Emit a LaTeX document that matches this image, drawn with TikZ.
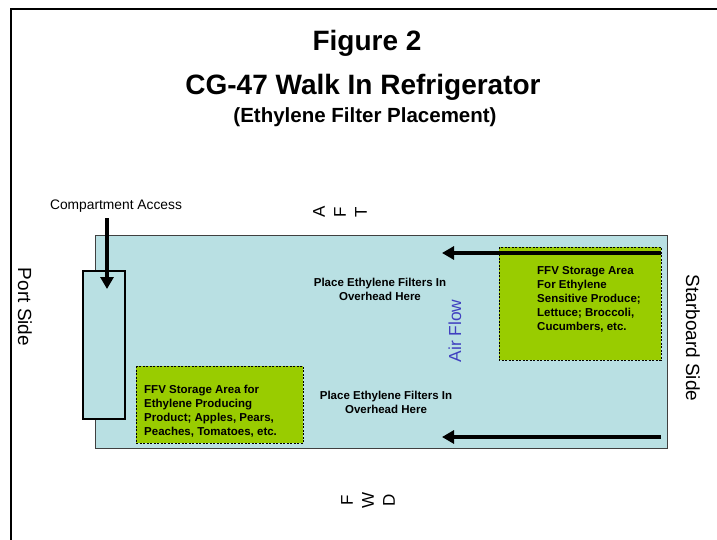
\documentclass[tikz,border=0pt]{standalone}
\usepackage{fontspec}
\setmainfont{Liberation Sans}
\usetikzlibrary{arrows.meta}
\definecolor{roombg}{RGB}{185,224,227}
\definecolor{ffvgreen}{RGB}{153,204,0}
\definecolor{airblue}{RGB}{64,64,192}
\tikzset{
  area/.style={draw=black,line width=0.8pt,dash pattern=on 2pt off 1.5pt,fill=ffvgreen},
  flow/.style={line width=4pt,-{Triangle[length=12pt,width=13pt]}},
  note/.style={font=\fontsize{11.5}{14}\selectfont\bfseries,inner sep=0pt},
  side/.style={font=\fontsize{19}{22}\selectfont,rotate=-90},
  heading/.style={font=\fontsize{28}{30}\selectfont\bfseries}
}
\begin{document}
\begin{tikzpicture}[x=1pt,y=-1pt]

  \useasboundingbox (0,0) rectangle (717,540);
  \draw[line width=2.5pt] (11,540) -- (11,9) -- (717,9);

  \node[heading] (fig)   at (367,43)  {Figure 2};
  \node[heading] (title) at (363,87)  {CG-47 Walk In Refrigerator};
  \node[font=\fontsize{20.5}{24}\selectfont\bfseries] (sub) at (365,117) {(Ethylene Filter Placement)};

  % room and compartment
  \draw[draw=black!75,line width=1pt,fill=roombg] (95,235) rectangle (667,448);
  \draw[line width=1.2pt,fill=roombg] (83,271) rectangle (125,419);
  \draw[area] (136,366) rectangle (303,443);
  \draw[area] (499,247) rectangle (661,360);

  \coordinate (accTop) at (107,218);
  \coordinate (accIn)  at (107,289);
  \coordinate (aftIn)  at (661,253);
  \coordinate (aftOut) at (442,253);
  \coordinate (fwdIn)  at (661,437);
  \coordinate (fwdOut) at (442,437);

  \draw[flow] (accTop) -- (accIn);
  \draw[flow] (aftIn) -- (aftOut);
  \draw[flow] (fwdIn) -- (fwdOut);

  \begin{scope}[every node/.style={note}]
    \node[anchor=west,align=left] (sens) at (537,299)
      {FFV Storage Area\\For Ethylene\\Sensitive Produce;\\Lettuce; Broccoli,\\Cucumbers, etc.};
    \node[anchor=west,align=left] (prod) at (144,411)
      {FFV Storage Area for\\Ethylene Producing\\Product; Apples, Pears,\\Peaches, Tomatoes, etc.};
    \node[align=center] (filtA) at (380,289) {Place Ethylene Filters In\\Overhead Here};
    \node[align=center] (filtF) at (386,402) {Place Ethylene Filters In\\Overhead Here};
  \end{scope}

  \node[font=\fontsize{13.8}{16}\selectfont] (access) at (116,206) {Compartment Access};
  \node[side] (port) at (25,307) {Port Side};
  \node[side] (star) at (693,338) {Starboard Side};
  \node[font=\fontsize{17.4}{20}\selectfont,text=airblue,rotate=90] (air) at (455,331) {Air Flow};

  \begin{scope}[every node/.style={font=\fontsize{17}{21}\selectfont,align=center,rotate=90}]
    \node (aft) at (340,212) {A\\F\\T};
    \node (fwd) at (368,500) {F\\W\\D};
  \end{scope}

\end{tikzpicture}
\end{document}
